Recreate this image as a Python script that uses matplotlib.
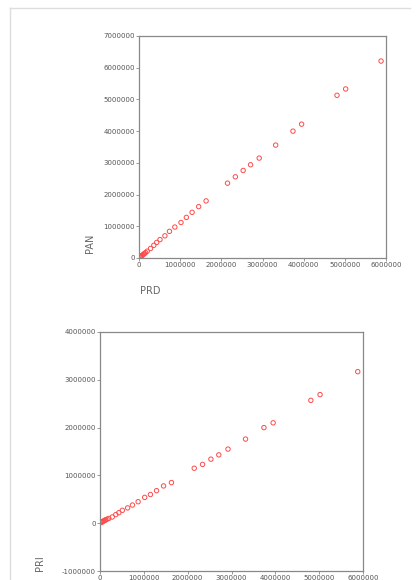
import matplotlib
matplotlib.use("Agg")
import matplotlib.pyplot as plt
from matplotlib.lines import Line2D

# values
prd = [5880000, 5020000, 4810000, 3950000, 3740000, 3320000, 2920000, 2710000,
       2530000, 2340000, 2150000, 1630000, 1450000, 1290000, 1150000, 1020000,
       870000, 740000, 630000, 510000, 430000, 360000, 280000,
       200000, 160000, 130000, 110000, 90000, 70000, 55000, 40000, 25000]
pan = [6210000, 5330000, 5130000, 4220000, 4000000, 3560000, 3150000, 2940000,
       2760000, 2560000, 2360000, 1800000, 1620000, 1440000, 1280000, 1120000,
       976000, 840000, 700000, 580000, 490000, 400000, 300000,
       215000, 170000, 140000, 118000, 96000, 75000, 58000, 42000, 27000]
pri = [3170000, 2690000, 2570000, 2100000, 2000000, 1760000, 1550000, 1430000,
       1340000, 1230000, 1150000, 850000, 780000, 680000, 600000, 540000,
       450000, 380000, 320000, 270000, 220000, 180000, 130000,
       100000, 85000, 70000, 60000, 50000, 40000, 32000, 24000, 15000]

top_yticks = [0, 1000000, 2000000, 3000000, 4000000, 5000000, 6000000, 7000000]
bot_yticks = [-1000000, 0, 1000000, 2000000, 3000000, 4000000]
xticks = [0, 1000000, 2000000, 3000000, 4000000, 5000000, 6000000]

grey = '#777777'
red = '#ff4a4a'

fig = plt.figure(figsize=(4.2, 5.8), dpi=100)
fig.patch.set_facecolor('white')

# light frame round the whole picture
fig.add_artist(Line2D([10/420, 10/420], [0, 1 - 8/580], color='#dddddd', lw=1))
fig.add_artist(Line2D([10/420, 410/420], [1 - 8/580, 1 - 8/580], color='#dddddd', lw=1))


def style(ax):
    for s in ax.spines.values():
        s.set_color('#888888')
        s.set_linewidth(0.9)
    ax.tick_params(direction='out', length=2, width=0.6, color='#888888',
                   labelsize=5, labelcolor='#555555', pad=1)
    ax.tick_params(top=False, right=False)


ax1 = fig.add_axes([139/420, 1 - 258/580, 247/420, 222/580])
ax1.scatter(prd, pan, s=10, facecolors='none', edgecolors=red, linewidths=0.7)
ax1.set_xlim(0, 6000000)
ax1.set_ylim(0, 7000000)
ax1.set_xticks(xticks)
ax1.set_yticks(top_yticks)
ax1.set_xticklabels([str(t) for t in xticks])
ax1.set_yticklabels([str(t) for t in top_yticks])
style(ax1)
fig.text(90/420, 1 - 243/580, 'PAN', rotation=90, ha='center', va='center',
         fontsize=7, color='#666666')
fig.text(150/420, 1 - 291/580, 'PRD', ha='center', va='center',
         fontsize=7, color='#666666')

ax2 = fig.add_axes([100/420, 1 - 571/580, 263/420, 239/580])
ax2.scatter(prd, pri, s=10, facecolors='none', edgecolors=red, linewidths=0.7)
ax2.set_xlim(0, 6000000)
ax2.set_ylim(-1000000, 4000000)
ax2.set_xticks(xticks)
ax2.set_yticks(bot_yticks)
ax2.set_xticklabels([str(t) for t in xticks])
ax2.set_yticklabels([str(t) for t in bot_yticks])
style(ax2)
fig.text(40/420, 1 - 563/580, 'PRI', rotation=90, ha='center', va='center',
         fontsize=7, color='#666666')

fig.savefig('out.png', dpi=100, facecolor='white')
